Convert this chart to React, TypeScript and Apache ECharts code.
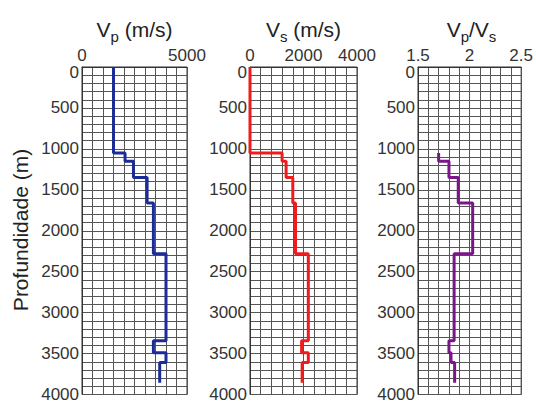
import React, { useEffect, useRef } from 'react';
import * as echarts from 'echarts';

// Layer tops (m) and final depth
const depthTops = [0, 1050, 1150, 1350, 1660, 2280, 3345, 3490, 3610];
const depthBottom = 3855;
// Vp (m/s) per layer
const vpValues = [1500, 2050, 2450, 3100, 3400, 4000, 3400, 4000, 3700];
// Vs (m/s) per layer
const vsValues = [0, 1200, 1350, 1600, 1700, 2180, 1930, 2180, 1950];
// Vp/Vs per layer (starting at 1050 m)
const ratioTops = [1050, 1150, 1350, 1660, 2280, 3345, 3490, 3610];
const ratioValues = [1.7, 1.8, 1.89, 2.03, 1.85, 1.8, 1.82, 1.855];

const vpTickLabels = [0, 5000];
const vsTickLabels = [0, 2000, 4000];
const ratioTickLabels = [1.5, 2, 2.5];

function steps(tops: number[], vals: number[], bottom: number) {
  const pts: number[][] = [];
  for (let i = 0; i < vals.length; i++) {
    const end = i + 1 < tops.length ? tops[i + 1] : bottom;
    pts.push([vals[i], tops[i]]);
    pts.push([vals[i], end]);
  }
  return pts;
}

const FONT = 'Arial, "Liberation Sans", sans-serif';
const GRID_COLOR = '#555';
const LABEL_COLOR = '#333';

export default function App() {
  const ref = useRef<HTMLDivElement>(null);
  useEffect(() => {
    if (!ref.current) return;
    const chart = echarts.init(ref.current, undefined, { renderer: 'svg' });
    const grids = [
      { left: 82, width: 105 },
      { left: 250, width: 107 },
      { left: 418, width: 107 },
    ].map((g) => ({
      left: g.left,
      width: g.width,
      top: 67,
      height: 330,
      show: true,
      borderColor: '#333',
      borderWidth: 1,
      backgroundColor: '#fff',
    }));

    const xDefs = [
      { min: 0, max: 5000, interval: 5000, split: 10, labels: vpTickLabels },
      { min: 0, max: 4000, interval: 2000, split: 5, labels: vsTickLabels },
      { min: 1.5, max: 2.5, interval: 0.5, split: 5, labels: ratioTickLabels },
    ];

    const xAxis = xDefs.map((d, i) => ({
      type: 'value',
      gridIndex: i,
      position: 'top',
      min: d.min,
      max: d.max,
      interval: d.interval,
      axisLine: { show: true, lineStyle: { color: '#333', width: 1 } },
      axisTick: { show: false },
      axisLabel: {
        margin: 3,
        color: LABEL_COLOR,
        fontSize: 17,
        fontFamily: FONT,
        formatter: (v: number) => {
          const m = d.labels.find((l) => Math.abs(l - v) < 1e-6);
          return m === undefined ? '' : String(m);
        },
      },
      splitLine: { show: true, lineStyle: { color: GRID_COLOR, width: 1 } },
      minorTick: { show: false, splitNumber: d.split },
      minorSplitLine: { show: true, lineStyle: { color: GRID_COLOR, width: 1 } },
    }));

    const yAxis = [0, 1, 2].map((i) => ({
      type: 'value',
      gridIndex: i,
      inverse: true,
      min: 0,
      max: 4000,
      interval: 500,
      axisLine: { show: true, lineStyle: { color: '#333', width: 1 } },
      axisTick: { show: false },
      axisLabel: {
        margin: 3,
        color: LABEL_COLOR,
        fontSize: 17,
        fontFamily: FONT,
        formatter: (v: number) => (v === 0 ? '{z|0}' : String(v)),
        rich: {
          z: { fontSize: 17, fontFamily: FONT, color: LABEL_COLOR, padding: [11, 0, 0, 0] },
        },
      },
      splitLine: { show: true, lineStyle: { color: GRID_COLOR, width: 1 } },
      minorTick: { show: false, splitNumber: 5 },
      minorSplitLine: { show: true, lineStyle: { color: GRID_COLOR, width: 1 } },
    }));

    const mkSeries = (i: number, data: number[][], color: string) => ({
      type: 'line',
      xAxisIndex: i,
      yAxisIndex: i,
      data,
      showSymbol: false,
      symbol: 'none',
      lineStyle: { color, width: 3 },
      clip: true,
    });

    const titleRich = {
      a: { fontSize: 21, fontFamily: FONT, color: '#222' },
      b: { fontSize: 15, fontFamily: FONT, color: '#222', padding: [14, 0, 0, 0] },
    };

    const mkTitle = (x: number, text: string) => ({
      type: 'text',
      x,
      y: 29,
      style: {
        text,
        rich: titleRich,
        align: 'center',
        verticalAlign: 'middle',
        textAlign: 'center',
        textVerticalAlign: 'middle',
        fill: '#222',
      },
    });

    chart.setOption({
      animation: false,
      backgroundColor: '#fff',
      grid: grids,
      xAxis,
      yAxis,
      series: [
        mkSeries(0, steps(depthTops, vpValues, depthBottom), '#1b2c96'),
        mkSeries(1, steps(depthTops, vsValues, depthBottom), '#ee1c1c'),
        mkSeries(2, steps(ratioTops, ratioValues, depthBottom), '#7a1687'),
      ],
      graphic: [
        mkTitle(134.5, '{a|V}{b|p}{a| (m/s)}'),
        mkTitle(303.5, '{a|V}{b|s}{a| (m/s)}'),
        mkTitle(471.5, '{a|V}{b|p}{a|/V}{b|s}'),
        {
          type: 'text',
          x: 20,
          y: 230,
          rotation: Math.PI / 2,
          style: {
            text: 'Profundidade (m)',
            fontSize: 21,
            fontFamily: FONT,
            fill: '#222',
            align: 'center',
            verticalAlign: 'middle',
            textAlign: 'center',
            textVerticalAlign: 'middle',
          },
        },
      ],
    });
    return () => chart.dispose();
  }, []);
  return (
    <div
      ref={ref}
      style={{ position: 'fixed', left: 0, top: 0, width: 536, height: 403 }}
    />
  );
}
